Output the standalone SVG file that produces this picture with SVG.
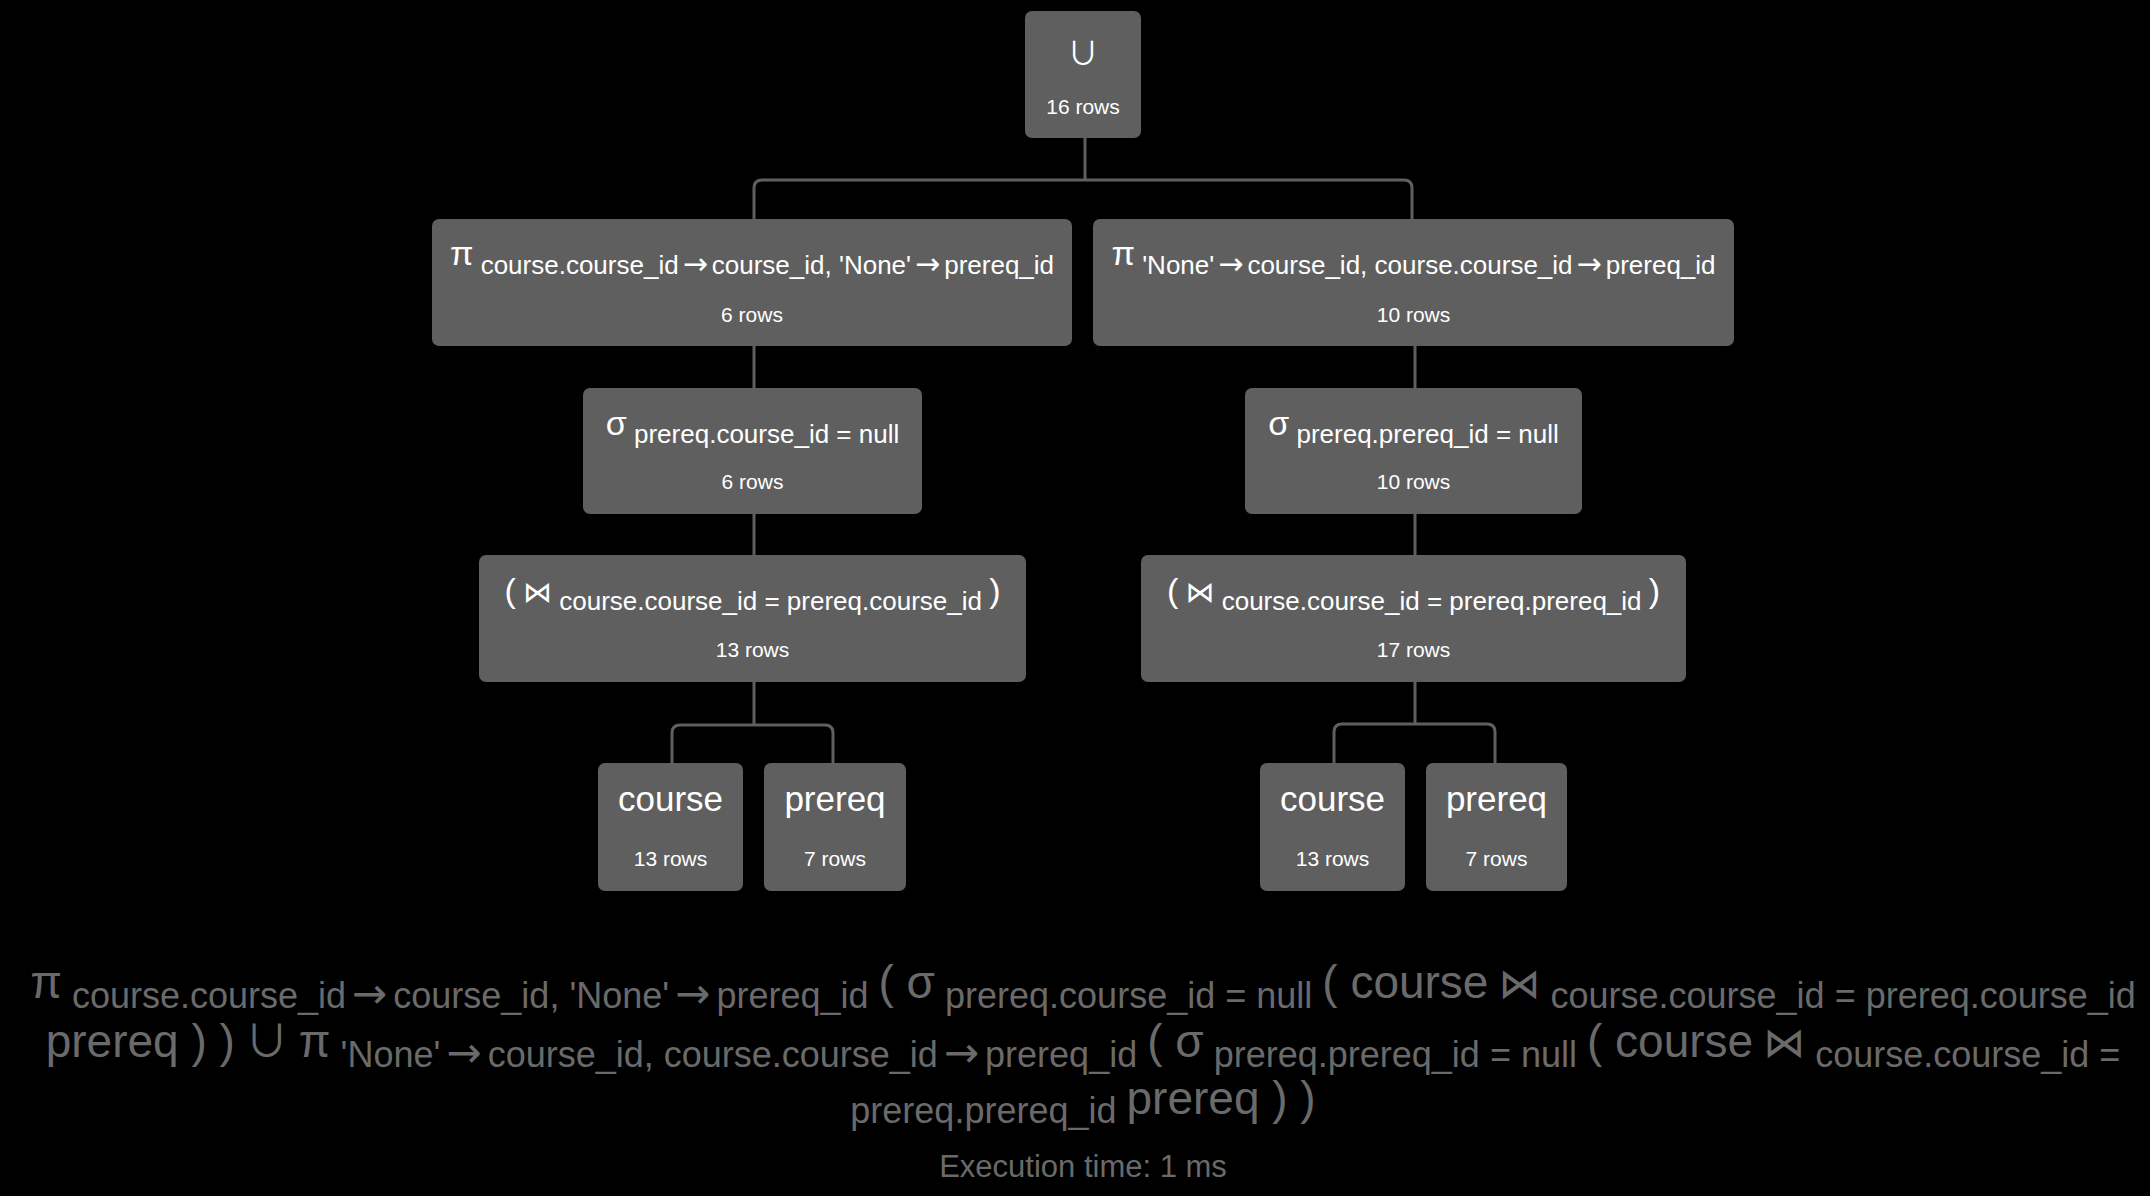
<svg xmlns="http://www.w3.org/2000/svg" width="2150" height="1196" viewBox="0 0 2150 1196">
<style>
text { font-family: "Liberation Sans", Arial, "DejaVu Sans", sans-serif; }
.node rect { fill: #5f5f5f; }
.t { fill: #ffffff; font-size: 26px; text-anchor: middle; }
.sym { font-size: 34px; }
.ar { font-family: "DejaVu Sans", sans-serif; font-size: 30px; }
.arb { font-family: "DejaVu Sans", sans-serif; font-size: 42px; }
.bow { font-family: "DejaVu Sans", sans-serif; font-size: 29px; }
.bowb { font-family: "DejaVu Sans", sans-serif; font-size: 42px; }
.cupn { font-family: "Noto Sans CJK SC", "DejaVu Sans", sans-serif; font-size: 31px; }
.rows { fill: #ffffff; font-size: 21px; text-anchor: middle; }
.leaf { fill: #ffffff; font-size: 35px; text-anchor: middle; }
.conn path { fill: none; stroke: #5f5f5f; stroke-width: 3; }
.expr { fill: #6a6a6a; font-size: 36px; text-anchor: middle; }
.b { font-size: 46px; }
.cup { font-family: "Noto Sans CJK SC", "DejaVu Sans", sans-serif; font-size: 44px; }
.exec { fill: #6a6a6a; font-size: 31px; text-anchor: middle; }
</style>
<rect x="0" y="0" width="2150" height="1196" fill="#000000"/>
<g class="conn">
<path d="M1085,138 V180"/>
<path d="M754,219 V188 Q754,180 762,180 H1404 Q1412,180 1412,188 V219"/>
<path d="M754,346 V388"/>
<path d="M754,514 V555"/>
<path d="M754,682 V725"/>
<path d="M672,763 V733 Q672,725 680,725 H825 Q833,725 833,733 V763"/>
<path d="M1415,346 V388"/>
<path d="M1415,514 V555"/>
<path d="M1415,682 V724"/>
<path d="M1334,763 V732 Q1334,724 1342,724 H1487 Q1495,724 1495,732 V763"/>
</g>
<g id="union" class="node">
<rect x="1025" y="11" width="116" height="127" rx="7"/>
<text class="t" x="1083" y="64"><tspan class="cupn">∪</tspan></text>
<text class="rows" x="1083" y="114">16 rows</text>
</g>
<g id="proj-left" class="node">
<rect x="432" y="219" width="640" height="127" rx="7"/>
<text class="t" x="752" y="274"><tspan class="sym" dy="-9">π</tspan> <tspan dy="9">course.course_id</tspan><tspan class="ar" dx="4">→</tspan><tspan dx="4">course_id, 'None'</tspan><tspan class="ar" dx="4">→</tspan><tspan dx="4">prereq_id</tspan></text>
<text class="rows" x="752" y="322">6 rows</text>
</g>
<g id="proj-right" class="node">
<rect x="1093" y="219" width="641" height="127" rx="7"/>
<text class="t" x="1413.5" y="274"><tspan class="sym" dy="-9">π</tspan> <tspan dy="9">'None'</tspan><tspan class="ar" dx="4">→</tspan><tspan dx="4">course_id, course.course_id</tspan><tspan class="ar" dx="4">→</tspan><tspan dx="4">prereq_id</tspan></text>
<text class="rows" x="1413.5" y="322">10 rows</text>
</g>
<g id="sel-left" class="node">
<rect x="583" y="388" width="339" height="126" rx="7"/>
<text class="t" x="752.5" y="443"><tspan class="sym" dy="-8">σ</tspan> <tspan dy="8">prereq.course_id = null</tspan></text>
<text class="rows" x="752.5" y="489">6 rows</text>
</g>
<g id="sel-right" class="node">
<rect x="1245" y="388" width="337" height="126" rx="7"/>
<text class="t" x="1413.5" y="443"><tspan class="sym" dy="-8">σ</tspan> <tspan dy="8">prereq.prereq_id = null</tspan></text>
<text class="rows" x="1413.5" y="489">10 rows</text>
</g>
<g id="join-left" class="node">
<rect x="479" y="555" width="547" height="127" rx="7"/>
<text class="t" x="752.5" y="610"><tspan class="sym" dy="-8">(</tspan> <tspan class="bow">⋈</tspan> <tspan dy="8">course.course_id = prereq.course_id</tspan> <tspan class="sym" dy="-8">)</tspan></text>
<text class="rows" x="752.5" y="657">13 rows</text>
</g>
<g id="join-right" class="node">
<rect x="1141" y="555" width="545" height="127" rx="7"/>
<text class="t" x="1413.5" y="610"><tspan class="sym" dy="-8">(</tspan> <tspan class="bow">⋈</tspan> <tspan dy="8">course.course_id = prereq.prereq_id</tspan> <tspan class="sym" dy="-8">)</tspan></text>
<text class="rows" x="1413.5" y="657">17 rows</text>
</g>
<g id="course-left" class="node">
<rect x="598" y="763" width="145" height="128" rx="7"/>
<text class="leaf" x="670.5" y="811">course</text>
<text class="rows" x="670.5" y="866">13 rows</text>
</g>
<g id="prereq-left" class="node">
<rect x="764" y="763" width="142" height="128" rx="7"/>
<text class="leaf" x="835" y="811">prereq</text>
<text class="rows" x="835" y="866">7 rows</text>
</g>
<g id="course-right" class="node">
<rect x="1260" y="763" width="145" height="128" rx="7"/>
<text class="leaf" x="1332.5" y="811">course</text>
<text class="rows" x="1332.5" y="866">13 rows</text>
</g>
<g id="prereq-right" class="node">
<rect x="1426" y="763" width="141" height="128" rx="7"/>
<text class="leaf" x="1496.5" y="811">prereq</text>
<text class="rows" x="1496.5" y="866">7 rows</text>
</g>
<g id="expression">
<text class="expr" x="1083" y="998"><tspan class="b">π</tspan> <tspan dy="10">course.course_id</tspan><tspan class="arb" dx="6">→</tspan><tspan dx="6">course_id, 'None'</tspan><tspan class="arb" dx="6">→</tspan><tspan dx="6">prereq_id</tspan> <tspan class="b" dy="-10">( σ</tspan> <tspan dy="10">prereq.course_id = null</tspan> <tspan class="b" dy="-10">( course</tspan> <tspan class="bowb">⋈</tspan> <tspan dy="10">course.course_id = prereq.course_id</tspan></text>
<text class="expr" x="1083" y="1057"><tspan class="b">prereq ) )</tspan> <tspan class="cup">∪</tspan> <tspan class="b">π</tspan> <tspan dy="10">'None'</tspan><tspan class="arb" dx="6">→</tspan><tspan dx="6">course_id, course.course_id</tspan><tspan class="arb" dx="6">→</tspan><tspan dx="6">prereq_id</tspan> <tspan class="b" dy="-10">( σ</tspan> <tspan dy="10">prereq.prereq_id = null</tspan> <tspan class="b" dy="-10">( course</tspan> <tspan class="bowb">⋈</tspan> <tspan dy="10">course.course_id =</tspan></text>
<text class="expr" x="1083" y="1123"><tspan>prereq.prereq_id</tspan> <tspan class="b" dy="-9">prereq ) )</tspan></text>
<text class="exec" x="1083" y="1177">Execution time: 1 ms</text>
</g>
</svg>
